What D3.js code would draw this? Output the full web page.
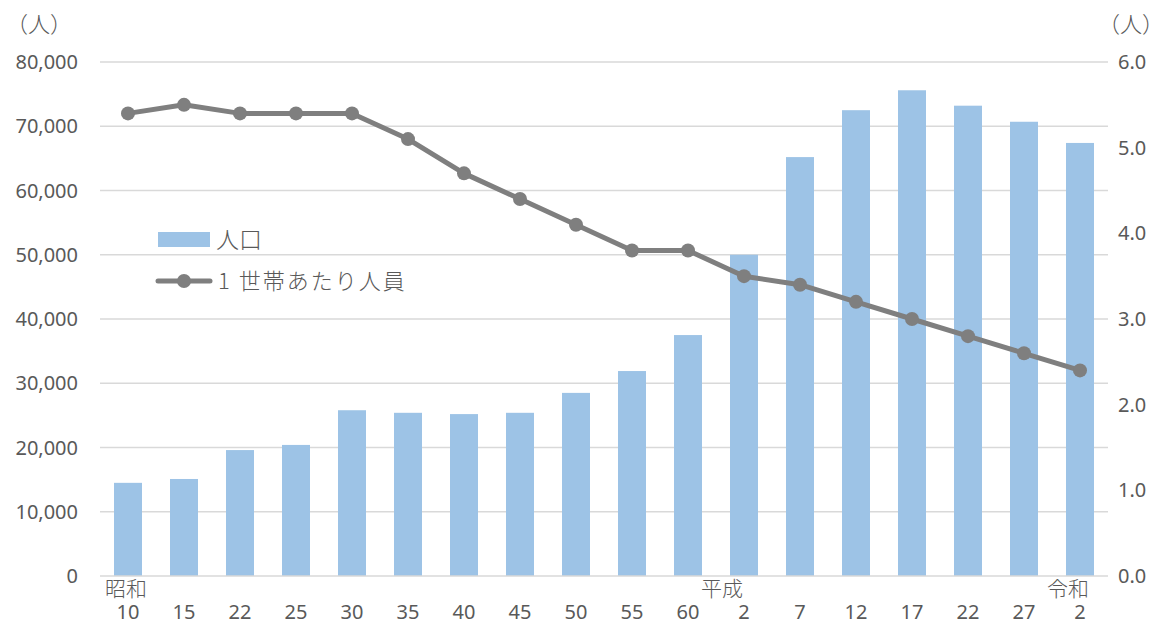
<!DOCTYPE html>
<html>
<head>
<meta charset="utf-8">
<script src="https://cdn.jsdelivr.net/npm/d3@7"></script>
<style>
  body { margin: 0; background: #fff; }
  svg text { font-family: "Noto Sans", "Noto Sans CJK JP", sans-serif; fill: #595959; }
  svg text.jp { font-family: "Noto Sans CJK JP", sans-serif; font-weight: 300; }
</style>
</head>
<body>
<svg id="chart" width="1164" height="626"></svg>
<script>
const years = ["10", "15", "22", "25", "30", "35", "40", "45", "50", "55", "60",
  "2", "7", "12", "17", "22", "27", "2 "];
const eras = [
  { label: "昭和", at: 0, anchor: "start", dx: -23 },
  { label: "平成", at: 11, anchor: "middle", dx: -22 },
  { label: "令和", at: 17, anchor: "middle", dx: -12 },
];
const population = [14500, 15100, 19600, 20400, 25800, 25400, 25200, 25400, 28500,
  31900, 37500, 50000, 65200, 72500, 75600, 73200, 70700, 67400];
const perHousehold = [5.4, 5.5, 5.4, 5.4, 5.4, 5.1, 4.7, 4.4, 4.1, 3.8, 3.8,
  3.5, 3.4, 3.2, 3.0, 2.8, 2.6, 2.4];
const leftTicks = [0, 10000, 20000, 30000, 40000, 50000, 60000, 70000, 80000];
const rightTicks = [0, 1, 2, 3, 4, 5, 6];

const svg = d3.select("#chart");
const plotL = 100, plotR = 1108, plotT = 62, plotB = 576;

const x = d3.scaleBand().domain(d3.range(years.length)).range([plotL, plotR]).paddingInner(0.5).paddingOuter(0.25);
const yL = d3.scaleLinear().domain([0, 80000]).range([plotB, plotT]);
const yR = d3.scaleLinear().domain([0, 6]).range([plotB, plotT]);
const cx = (i) => x(i) + x.bandwidth() / 2;

// grid
svg.append("g").selectAll("line").data(leftTicks.filter((d) => d > 0)).join("line")
  .attr("x1", plotL).attr("x2", plotR)
  .attr("y1", (d) => yL(d)).attr("y2", (d) => yL(d))
  .attr("stroke", "#d9d9d9").attr("stroke-width", 1.3);

// bars
svg.append("g").selectAll("rect").data(population).join("rect")
  .attr("x", (d, i) => x(i)).attr("width", x.bandwidth())
  .attr("y", (d) => yL(d)).attr("height", (d) => plotB - yL(d))
  .attr("fill", "#9dc3e6");

// baseline
svg.append("line").attr("x1", plotL).attr("x2", plotR).attr("y1", plotB).attr("y2", plotB)
  .attr("stroke", "#d9d9d9").attr("stroke-width", 1.3);

// line
const line = d3.line().x((d, i) => cx(i)).y((d) => yR(d));
svg.append("path").datum(perHousehold).attr("d", line)
  .attr("fill", "none").attr("stroke", "#7f7f7f").attr("stroke-width", 5).attr("stroke-linejoin", "round");
svg.append("g").selectAll("circle").data(perHousehold).join("circle")
  .attr("cx", (d, i) => cx(i)).attr("cy", (d) => yR(d)).attr("r", 7).attr("fill", "#7f7f7f");

// left axis labels
svg.append("g").selectAll("text").data(leftTicks).join("text")
  .attr("x", 78).attr("y", (d) => yL(d)).attr("dy", "0.35em")
  .attr("text-anchor", "end").attr("font-size", 20)
  .text((d) => d3.format(",")(d));
svg.append("text").attr("class", "jp").attr("x", 6).attr("y", 32).attr("font-size", 22).text("（人）");

// right axis labels
svg.append("g").selectAll("text").data(rightTicks).join("text")
  .attr("x", 1118).attr("y", (d) => yR(d)).attr("dy", "0.35em")
  .attr("font-size", 20)
  .text((d) => d.toFixed(1));
svg.append("text").attr("class", "jp").attr("x", 1098).attr("y", 32).attr("font-size", 22).text("（人）");

// x labels (era name on the first line, year on the second)
svg.append("g").selectAll("text").data(years).join("text")
  .attr("x", (d, i) => cx(i)).attr("y", 619).attr("text-anchor", "middle").attr("font-size", 20)
  .text((d) => d.trim());
svg.append("g").selectAll("text").data(eras).join("text")
  .attr("class", "jp")
  .attr("x", (d) => cx(d.at) + d.dx).attr("y", 596).attr("text-anchor", (d) => d.anchor)
  .attr("font-size", 21).text((d) => d.label);

// legend
const lg = svg.append("g");
lg.append("rect").attr("x", 158).attr("y", 232).attr("width", 52).attr("height", 15).attr("fill", "#9dc3e6");
lg.append("text").attr("class", "jp").attr("x", 216).attr("y", 240).attr("dy", "0.35em")
  .attr("font-size", 23).text("人口");
lg.append("line").attr("x1", 158).attr("x2", 210).attr("y1", 281).attr("y2", 281)
  .attr("stroke", "#7f7f7f").attr("stroke-width", 5).attr("stroke-linecap", "round");
lg.append("circle").attr("cx", 184).attr("cy", 281).attr("r", 7).attr("fill", "#7f7f7f");
lg.append("text").attr("class", "jp").attr("x", 218).attr("y", 281).attr("dy", "0.35em")
  .attr("font-size", 22).attr("letter-spacing", 2).text("1 世帯あたり人員");
</script>
</body>
</html>
